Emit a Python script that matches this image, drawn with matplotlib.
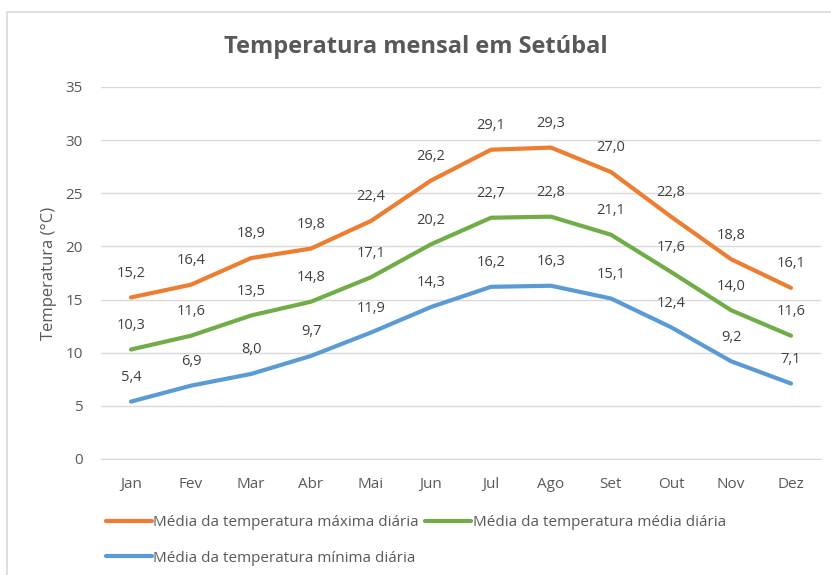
import matplotlib.pyplot as plt
from matplotlib.patches import Rectangle

plt.rcParams['font.family'] = ['Open Sans', 'DejaVu Sans']

meses = ["Jan", "Fev", "Mar", "Abr", "Mai", "Jun", "Jul", "Ago", "Set", "Out", "Nov", "Dez"]
t_max = [15.2, 16.4, 18.9, 19.8, 22.4, 26.2, 29.1, 29.3, 27.0, 22.8, 18.8, 16.1]
t_med = [10.3, 11.6, 13.5, 14.8, 17.1, 20.2, 22.7, 22.8, 21.1, 17.6, 14.0, 11.6]
t_min = [5.4, 6.9, 8.0, 9.7, 11.9, 14.3, 16.2, 16.3, 15.1, 12.4, 9.2, 7.1]

cinza = "#595959"
fig = plt.figure(figsize=(8.31, 5.75), dpi=100)
fig.patches.append(Rectangle((7/831, -0.05), 1, 1.05 - 12/575, transform=fig.transFigure,
                             fill=False, edgecolor="#d9d9d9", linewidth=1.2))
ax = fig.add_axes((101/831, 1 - 459/575, 720/831, 372/575))

x = range(len(meses))
series = [(t_max, "#ED7D31", "Média da temperatura máxima diária"),
          (t_min, "#5B9BD5", "Média da temperatura mínima diária"),
          (t_med, "#70AD47", "Média da temperatura média diária")]
handles = []
for vals, cor, nome in series:
    h, = ax.plot(x, vals, color=cor, linewidth=3, solid_capstyle="round", label=nome)
    handles.append(h)
    for i, v in enumerate(vals):
        ax.annotate(f"{v:.1f}".replace(".", ","), (i, v), xytext=(0, 12),
                    textcoords="offset points", ha="center", va="bottom",
                    fontsize=10.5, color="#404040")

ax.set_xlim(-0.5, 11.5)
ax.set_ylim(0, 35)
ax.set_yticks(range(0, 36, 5))
ax.set_xticks(list(x))
ax.set_xticklabels(meses)
ax.grid(axis="y", color="#d9d9d9", linewidth=1)
ax.set_axisbelow(True)
for s in ["top", "right", "left"]:
    ax.spines[s].set_visible(False)
ax.spines["bottom"].set_color("#d9d9d9")
ax.tick_params(length=0, labelsize=11, labelcolor=cinza)
ax.tick_params(axis="x", pad=13)
ax.tick_params(axis="y", pad=13)
ax.set_ylabel("Temperatura (°C)", fontsize=12, color=cinza, labelpad=6)

fig.text(0.5, 1 - 47/575, "Temperatura mensal em Setúbal", ha="center", va="center",
         fontsize=17, fontweight="bold", color=cinza)

fig.legend(handles=handles, ncol=2, loc="upper left", bbox_to_anchor=(100/831, 1 - 509/575),
           frameon=False, fontsize=11, labelcolor=cinza, handlelength=3,
           handletextpad=0.1, columnspacing=0.4, borderaxespad=0, labelspacing=1.35)

plt.savefig("out.png")
